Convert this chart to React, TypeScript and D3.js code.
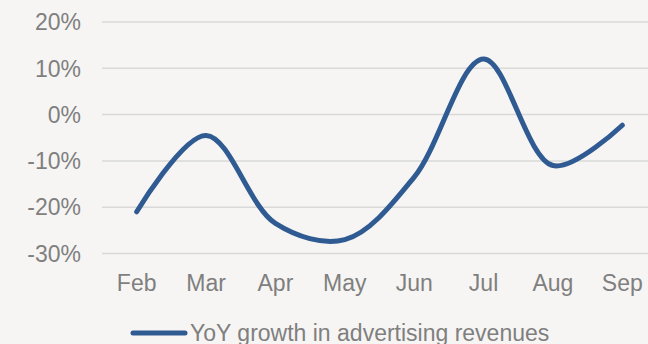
import React from "react";
import * as d3 from "d3";

const months = ["Feb", "Mar", "Apr", "May", "Jun", "Jul", "Aug", "Sep"];
const yoyGrowth = [-21, -4.5, -23.5, -27, -13.5, 12, -11, -2.3];
const yTicks = [-30, -20, -10, 0, 10, 20];
const seriesName = "YoY growth in advertising revenues";

const W = 648;
const H = 344;
const FONT = "'Liberation Sans', Arial, sans-serif";

export default function App() {
  const x = d3.scaleBand<string>().domain(months).range([102, 657]);
  const y = d3.scaleLinear().domain([-30, 20]).range([253.5, 22]);
  const line = d3
    .line<number>()
    .x((_, i) => (x(months[i]) as number) + x.bandwidth() / 2)
    .y((d) => y(d))
    .curve(d3.curveCatmullRom.alpha(0.5));

  return (
    <div style={{ position: "fixed", left: 0, top: 0, width: W, height: H }}>
      <svg width={W} height={H} style={{ display: "block" }}>
        <rect x={0} y={0} width={W} height={H} fill="#f6f5f3" />
        {yTicks.map((t) => (
          <g key={t}>
            <line x1={102} x2={W} y1={y(t)} y2={y(t)} stroke="#d9d9d9" strokeWidth={1.5} />
            <text
              x={81}
              y={y(t)}
              dy="0.36em"
              textAnchor="end"
              fontFamily={FONT}
              fontSize={23}
              fill="#7f7f7f"
            >
              {`${t}%`}
            </text>
          </g>
        ))}
        {months.map((m) => (
          <text
            key={m}
            x={(x(m) as number) + x.bandwidth() / 2}
            y={291}
            textAnchor="middle"
            fontFamily={FONT}
            fontSize={23}
            fill="#7f7f7f"
          >
            {m}
          </text>
        ))}
        <path
          d={line(yoyGrowth) || ""}
          fill="none"
          stroke="#2f5b92"
          strokeWidth={5}
          strokeLinecap="round"
          strokeLinejoin="round"
        />
        <line x1={133} x2={185} y1={333} y2={333} stroke="#2f5b92" strokeWidth={5} strokeLinecap="round" />
        <text x={190} y={341} fontFamily={FONT} fontSize={23} fill="#7f7f7f">
          {seriesName}
        </text>
      </svg>
    </div>
  );
}
